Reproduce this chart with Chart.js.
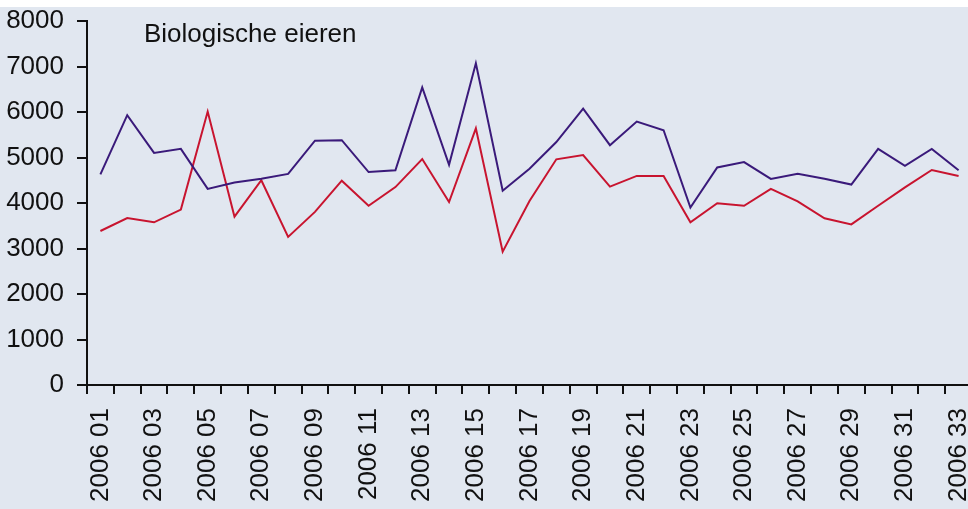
<!DOCTYPE html>
<html>
<head>
<meta charset="utf-8">
<script src="https://cdn.jsdelivr.net/npm/chart.js@4"></script>
<style>
  html, body { margin: 0; padding: 0; background: #ffffff; overflow: hidden; width: 968px; height: 509px; }
  #wrap { position: absolute; left: 0; top: 7px; width: 974px; height: 502px; background: #e1e7f0; }
</style>
</head>
<body>
<div id="wrap"><canvas id="chart"></canvas></div>
<script>
// Week labels 2006 01 .. 2006 33
const weeks = [
  '2006 01', '2006 02', '2006 03', '2006 04', '2006 05', '2006 06', '2006 07', '2006 08',
  '2006 09', '2006 10', '2006 11', '2006 12', '2006 13', '2006 14', '2006 15', '2006 16',
  '2006 17', '2006 18', '2006 19', '2006 20', '2006 21', '2006 22', '2006 23', '2006 24',
  '2006 25', '2006 26', '2006 27', '2006 28', '2006 29', '2006 30', '2006 31', '2006 32',
  '2006 33',
];
const purpleSeries = [
  4630, 5930, 5100, 5190, 4310, 4450, 4535, 4640, 5370, 5380, 4680,
  4720, 6540, 4840, 7070, 4270, 4755, 5340, 6075, 5270, 5790, 5600,
  3900, 4780, 4900, 4530, 4645, 4535, 4405, 5190, 4815, 5190, 4720,
];
const redSeries = [
  3385, 3670, 3575, 3855, 6010, 3700, 4500, 3255, 3805, 4490, 3940,
  4350, 4965, 4020, 5640, 2930, 4045, 4960, 5055, 4360, 4595, 4595,
  3575, 3995, 3940, 4310, 4035, 3665, 3530, 3940, 4345, 4725, 4595,
];
const yTicks = [0, 1000, 2000, 3000, 4000, 5000, 6000, 7000, 8000];
const chartTitle = 'Biologische eieren';

const FONT = "'Liberation Sans', Arial, sans-serif";

const titleInside = {
  id: 'titleInside',
  afterDraw(c) {
    const { ctx } = c;
    ctx.save();
    ctx.font = `26px ${FONT}`;
    ctx.fillStyle = '#111111';
    ctx.textBaseline = 'alphabetic';
    ctx.fillText(chartTitle, 144, 35);
    ctx.restore();
  },
};

const ctx = document.getElementById('chart');
// eslint-disable-next-line no-unused-vars
const chart = new Chart(ctx, {
  type: 'line',
  data: {
    labels: weeks,
    datasets: [
      {
        label: 'Totaal',
        data: purpleSeries,
        borderColor: '#3a1a7a',
        borderWidth: 2,
        pointRadius: 0,
        tension: 0,
      },
      {
        label: 'Biologisch',
        data: redSeries,
        borderColor: '#c8142f',
        borderWidth: 2,
        pointRadius: 0,
        tension: 0,
      },
    ],
  },
  options: {
    responsive: true,
    maintainAspectRatio: false,
    animation: false,
    layout: {
      padding: { top: 14, right: 2, left: 0, bottom: 0 },
    },
    plugins: {
      legend: { display: false },
      tooltip: { enabled: false },
    },
    scales: {
      x: {
        offset: true,
        grid: {
          offset: true,
          drawOnChartArea: false,
          drawTicks: true,
          tickLength: 9,
          color: '#111111',
          lineWidth: 2,
        },
        border: { display: true, color: '#111111', width: 2 },
        ticks: {
          autoSkip: false,
          minRotation: 90,
          maxRotation: 90,
          padding: 14,
          color: '#111111',
          font: { family: FONT, size: 26 },
          callback(value, index) {
            return index % 2 === 0 ? weeks[index] : '';
          },
        },
        afterFit(scale) {
          scale.height = 124;
          scale.paddingLeft = 0;
          scale.paddingRight = 0;
        },
      },
      y: {
        min: 0,
        max: 8000,
        afterBuildTicks(scale) {
          scale.ticks = yTicks.map((v) => ({ value: v }));
        },
        grid: {
          drawOnChartArea: false,
          drawTicks: true,
          tickLength: 10,
          color: '#111111',
          lineWidth: 2,
        },
        border: { display: true, color: '#111111', width: 2 },
        ticks: {
          padding: 13,
          color: '#111111',
          font: { family: FONT, size: 26 },
          callback: (v) => String(v),
        },
        afterFit(scale) {
          scale.width = 87;
          scale.paddingTop = 0;
          scale.paddingBottom = 0;
        },
      },
    },
  },
  plugins: [titleInside],
});
</script>
</body>
</html>
